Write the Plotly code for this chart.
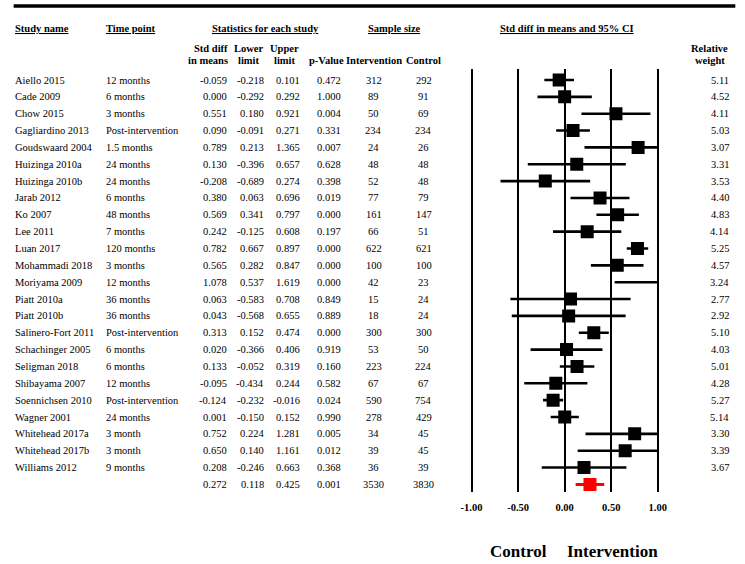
import numpy as np
import plotly.graph_objects as go

# ---- data ----
study_names = ["Aiello 2015", "Cade 2009", "Chow 2015", "Gagliardino 2013", "Goudswaard 2004",
               "Huizinga 2010a", "Huizinga 2010b", "Jarab 2012", "Ko 2007", "Lee 2011",
               "Luan 2017", "Mohammadi 2018", "Moriyama 2009", "Piatt 2010a", "Piatt 2010b",
               "Salinero-Fort 2011", "Schachinger 2005", "Seligman 2018", "Shibayama 2007",
               "Soennichsen 2010", "Wagner 2001", "Whitehead 2017a", "Whitehead 2017b",
               "Williams 2012"]
time_points = ["12 months", "6 months", "3 months", "Post-intervention", "1.5 months",
               "24 months", "24 months", "6 months", "48 months", "7 months",
               "120 months", "3 months", "12 months", "36 months", "36 months",
               "Post-intervention", "6 months", "6 months", "12 months",
               "Post-intervention", "24 months", "3 month", "3 month", "9 months"]
std_diff = [-0.059, 0.000, 0.551, 0.090, 0.789, 0.130, -0.208, 0.380, 0.569, 0.242,
            0.782, 0.565, 1.078, 0.063, 0.043, 0.313, 0.020, 0.133, -0.095, -0.124,
            0.001, 0.752, 0.650, 0.208]
lower_limit = [-0.218, -0.292, 0.180, -0.091, 0.213, -0.396, -0.689, 0.063, 0.341, -0.125,
               0.667, 0.282, 0.537, -0.583, -0.568, 0.152, -0.366, -0.052, -0.434, -0.232,
               -0.150, 0.224, 0.140, -0.246]
upper_limit = [0.101, 0.292, 0.921, 0.271, 1.365, 0.657, 0.274, 0.696, 0.797, 0.608,
               0.897, 0.847, 1.619, 0.708, 0.655, 0.474, 0.406, 0.319, 0.244, -0.016,
               0.152, 1.281, 1.161, 0.663]
p_values = [0.472, 1.000, 0.004, 0.331, 0.007, 0.628, 0.398, 0.019, 0.000, 0.197,
            0.000, 0.000, 0.000, 0.849, 0.889, 0.000, 0.919, 0.160, 0.582, 0.024,
            0.990, 0.005, 0.012, 0.368]
n_intervention = [312, 89, 50, 234, 24, 48, 52, 77, 161, 66, 622, 100, 42, 15, 18,
                  300, 53, 223, 67, 590, 278, 34, 39, 36]
n_control = [292, 91, 69, 234, 26, 48, 48, 79, 147, 51, 621, 100, 23, 24, 24,
             300, 50, 224, 67, 754, 429, 45, 45, 39]
relative_weight = [5.11, 4.52, 4.11, 5.03, 3.07, 3.31, 3.53, 4.40, 4.83, 4.14,
                   5.25, 4.57, 3.24, 2.77, 2.92, 5.10, 4.03, 5.01, 4.28, 5.27,
                   5.14, 3.30, 3.39, 3.67]

summary_effect = 0.272
summary_lower = 0.118
summary_upper = 0.425
summary_p = 0.001
summary_n_intervention = 3530
summary_n_control = 3830

tick_vals = [-1.0, -0.5, 0.0, 0.5, 1.0]
tick_labels = ["-1.00", "-0.50", "0.00", "0.50", "1.00"]
favours_labels = ["Control", "Intervention"]

# ---- layout geometry (pixels) ----
W, H = 745, 564
row0_px, row_h = 80.0, 16.85
rule_y0, rule_y1 = 4.5, 7.5     # thick rule across the top
line_top, line_bot = 69.0, 492.0
xm1_px, xp1_px = 472.7, 663.0   # pixel of -1.00 and 1.00
pad = 0.02
unit = (xp1_px - xm1_px) / 2.0

FONT = "Liberation Serif"
fs = 10.5

n = len(study_names)
sum_row = n

# whiskers are cut at the axis window like the original software does
lo_c = np.clip(lower_limit, -1, 1)
hi_c = np.clip(upper_limit, -1, 1)
ci_x, ci_y = [], []
for i in range(n):
    ci_x += [lo_c[i], hi_c[i], None]
    ci_y += [i, i, None]
box_x = [e if -1 <= e <= 1 else None for e in std_diff]

fig = go.Figure()
fig.add_trace(go.Scatter(x=ci_x, y=ci_y, mode="lines",
                         line=dict(color="black", width=2.6), hoverinfo="skip"))
fig.add_trace(go.Scatter(x=box_x, y=list(range(n)), mode="markers",
                         marker=dict(symbol="square", size=13, color="black", line=dict(width=0)),
                         hoverinfo="skip"))
fig.add_trace(go.Scatter(x=[summary_lower, summary_upper], y=[sum_row, sum_row], mode="lines",
                         line=dict(color="red", width=3), hoverinfo="skip"))
fig.add_trace(go.Scatter(x=[summary_effect], y=[sum_row], mode="markers",
                         marker=dict(symbol="square", size=13, color="red", line=dict(width=0)),
                         hoverinfo="skip"))
# invisible point so the full-page table subplot exists
fig.add_trace(go.Scatter(x=[0], y=[0], xaxis="x2", yaxis="y2", mode="markers",
                         marker=dict(opacity=0), hoverinfo="skip"))

annotations = []


def tbl(text, x, row, anchor="right", size=fs):
    annotations.append(dict(text=text, x=x, y=row, xref="x2", yref="y2", xanchor=anchor,
                            yanchor="middle", showarrow=False, borderpad=0, borderwidth=0,
                            font=dict(family=FONT, size=size, color="black")))


def hdr(text, x, y_px, anchor="center", size=fs):
    tbl("<b>" + text + "</b>", x, (y_px - row0_px) / row_h, anchor, size)


for i in range(n):
    tbl(study_names[i], 6, i, "left")
    tbl(time_points[i], 99, i, "left")
    tbl("%.3f" % std_diff[i], 223, i)
    tbl("%.3f" % lower_limit[i], 261, i)
    tbl("%.3f" % upper_limit[i], 297.5, i)
    tbl("%.3f" % p_values[i], 339.5, i)
    tbl(str(n_intervention[i]), 373, i, "center")
    tbl(str(n_control[i]), 424, i, "center")
    tbl("%.2f" % relative_weight[i], 736, i)

tbl("%.3f" % summary_effect, 223, sum_row)
tbl("%.3f" % summary_lower, 261, sum_row)
tbl("%.3f" % summary_upper, 297.5, sum_row)
tbl("%.3f" % summary_p, 339.5, sum_row)
tbl(str(summary_n_intervention), 373, sum_row, "center")
tbl(str(summary_n_control), 424, sum_row, "center")

# headers
hdr("<u>Study name</u>", 6, 28, "left")
hdr("<u>Time point</u>", 99, 28, "left")
hdr("<u>Statistics for each study</u>", 262, 28)
hdr("<u>Sample size</u>", 394, 28)
hdr("<u>Std diff in means and 95% CI</u>", 570, 28)
hdr("Std diff", 224, 48, "right")
hdr("in means", 224, 60, "right")
hdr("Lower", 245, 48)
hdr("limit", 245, 60)
hdr("Upper", 282, 48)
hdr("limit", 282, 60)
hdr("p-Value", 324, 60)
hdr("Intervention", 373, 60)
hdr("Control", 424, 60)
hdr("Relative", 716, 48)
hdr("weight", 716, 60)
hdr(favours_labels[0], 521, 551, size=17)
hdr(favours_labels[1], 617, 551, size=17)

fig.update_layout(
    width=W, height=H, autosize=False,
    margin=dict(l=0, r=0, t=0, b=0, pad=0),
    paper_bgcolor="white", plot_bgcolor="rgba(0,0,0,0)",
    showlegend=False, hovermode=False,
    font=dict(family=FONT, size=fs, color="black"),
    annotations=annotations,
    shapes=[dict(type="rect", xref="paper", yref="paper", x0=5 / W, x1=742 / W,
                 y0=1 - rule_y1 / H, y1=1 - rule_y0 / H,
                 fillcolor="black", line=dict(color="black", width=0.5), layer="above")],
    xaxis=dict(domain=[(xm1_px - pad * unit) / W, (xp1_px + pad * unit) / W],
               range=[-1 - pad, 1 + pad], anchor="y",
               tickvals=tick_vals, ticktext=["<b>%s</b>" % t for t in tick_labels],
               tickfont=dict(family=FONT, size=fs, color="black"),
               ticks="outside", ticklen=5, tickcolor="rgba(0,0,0,0)",
               showgrid=True, gridcolor="black", gridwidth=2,
               zeroline=False, showline=False, fixedrange=True),
    yaxis=dict(domain=[1 - line_bot / H, 1 - line_top / H],
               range=[(line_bot - row0_px) / row_h, (line_top - row0_px) / row_h],
               visible=False, fixedrange=True),
    xaxis2=dict(domain=[0, 1], range=[0, W], anchor="y2", visible=False, fixedrange=True),
    yaxis2=dict(domain=[0, 1], range=[(H - row0_px) / row_h, -row0_px / row_h],
                anchor="x2", visible=False, fixedrange=True),
)

fig.write_html("out.html", config={"displayModeBar": False},
               post_script="document.body.style.margin='0';document.body.style.overflow='hidden';")
